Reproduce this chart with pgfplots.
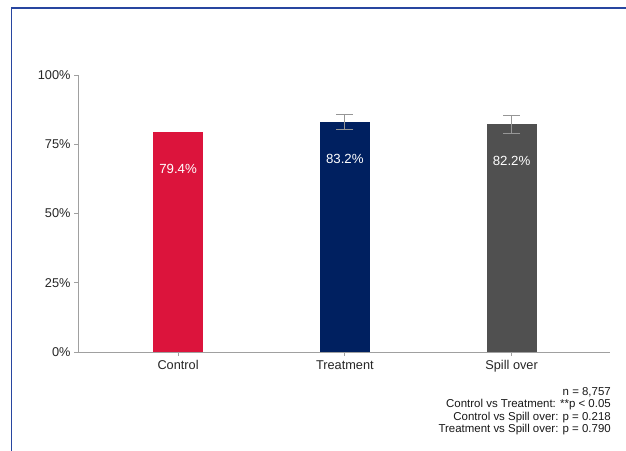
\documentclass[border=0pt]{standalone}
\usepackage{fontspec}
\setmainfont{Liberation Sans}
\usepackage{pgfplots}
\pgfplotsset{compat=1.18}
\definecolor{framec}{RGB}{40,70,160}
\definecolor{ctrl}{RGB}{220,20,60}
\definecolor{treat}{RGB}{0,32,96}
\definecolor{spill}{RGB}{80,80,80}
\definecolor{axc}{RGB}{160,160,160}
\definecolor{errc}{RGB}{150,150,150}
\begin{document}
\begin{tikzpicture}
\useasboundingbox (0,0) rectangle (626bp,451bp);
\fill[white] (0,0) rectangle (626bp,451bp);
\draw[framec, line width=1.5bp] (11.5bp,0) -- (11.5bp,443bp) -- (626bp,443bp);
\begin{axis}[
  at={(78bp,99bp)}, anchor=south west,
  scale only axis, width=532bp, height=277bp,
  xmin=-0.6, xmax=2.59, ymin=0, ymax=100,
  axis x line=bottom, axis y line=left,
  axis line style={-, axc, line width=0.8bp},
  tick style={axc, line width=0.8bp},
  tick align=outside, major tick length=4bp,
  xtick={0,1,2}, xticklabels={Control,Treatment,Spill over},
  ytick={0,25,50,75,100}, yticklabels={0\%,25\%,50\%,75\%,100\%},
  ticklabel style={font=\fontsize{12.8}{14}\selectfont, text=black!85},
  xticklabel style={yshift=-1bp},
  ybar, bar width=50bp, bar shift=0pt,
  nodes near coords={\pgfmathprintnumber[fixed,precision=1,fixed zerofill,assume math mode=true]{\pgfplotspointmeta}\%},
  every node near coord/.append style={anchor=center, yshift=-37bp, text=white, font=\fontsize{13.3}{15}\selectfont},
  error bars/y dir=both, error bars/y explicit,
  error bars/error bar style={errc, line width=0.8bp},
  error bars/error mark options={errc, line width=0.8bp, mark size=8.5bp, rotate=90},
  clip=false,
]
\addplot[fill=ctrl, draw=none] coordinates {(0,79.4)};
\addplot[fill=treat, draw=none] coordinates {(1,83.2) +- (0,2.7)};
\addplot[fill=spill, draw=none] coordinates {(2,82.2) +- (0,3.3)};
\end{axis}
\begin{scope}[every node/.style={anchor=base east, inner sep=0, font=\fontsize{11.5}{12}\selectfont, text=black!90}]
\node at (611bp,55bp) {n = 8,757};
\node at (611bp,43bp) {Control vs Treatment: **p < 0.05};
\node at (611bp,31bp) {Control vs Spill over: p = 0.218};
\node at (611bp,19bp) {Treatment vs Spill over: p = 0.790};
\end{scope}
\end{tikzpicture}
\end{document}
